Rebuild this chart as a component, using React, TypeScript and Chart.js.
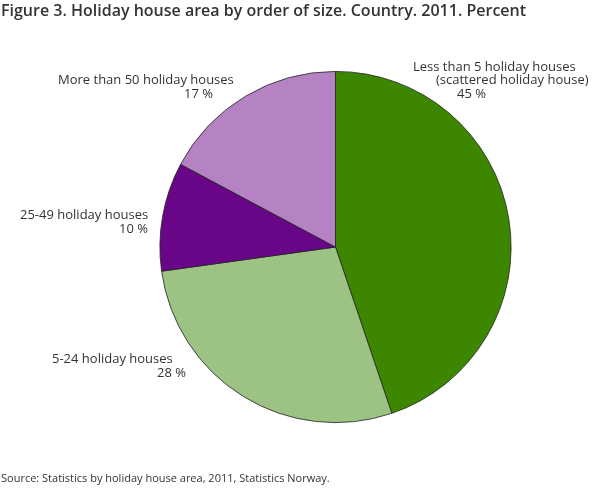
import React, { useEffect, useRef } from 'react';
import { Chart, registerables } from 'chart.js';

Chart.register(...registerables);

const categories = [
  'Less than 5 holiday houses (scattered holiday house)',
  '5-24 holiday houses',
  '25-49 holiday houses',
  'More than 50 holiday houses',
];
const shares = [44.8, 28.0, 10.0, 17.2];
const sliceColors = ['#3d8600', '#9dc384', '#690687', '#b583c4'];
const labelLines = [
  ['Less than 5 holiday houses', '(scattered holiday house)', '45 %'],
  ['5-24 holiday houses', '28 %'],
  ['25-49 holiday houses', '10 %'],
  ['More than 50 holiday houses', '17 %'],
];

const TITLE = 'Figure 3. Holiday house area by order of size. Country. 2011. Percent';
const SOURCE = 'Source: Statistics by holiday house area, 2011, Statistics Norway.';

// left x and middle y of every label line
const labelPos = [
  [[413, 67], [436, 80], [457, 94]],
  [[52, 359], [157, 373]],
  [[20, 215], [119, 229]],
  [[58, 80], [184, 94]],
];

const textPlugin = {
  id: 'texts',
  afterDraw(chart: Chart) {
    const ctx = chart.ctx;
    ctx.save();
    ctx.fillStyle = '#333333';
    ctx.textBaseline = 'middle';
    ctx.textAlign = 'left';
    ctx.font = '600 16px "Open Sans"';
    ctx.fillText(TITLE, 1, 11);
    ctx.font = '13px "Open Sans"';
    labelLines.forEach((lines, i) => {
      lines.forEach((line, j) => {
        const [x, y] = labelPos[i][j];
        ctx.fillText(line, x, y);
      });
    });
    ctx.font = '11px "Open Sans"';
    ctx.fillText(SOURCE, 1, 479);
    ctx.restore();
  },
};

const App: React.FC = () => {
  const canvasRef = useRef<HTMLCanvasElement>(null);

  useEffect(() => {
    if (!canvasRef.current) return;
    const chart = new Chart(canvasRef.current, {
      type: 'pie',
      data: {
        labels: categories,
        datasets: [{
          data: shares,
          backgroundColor: sliceColors,
          borderColor: '#222222',
          borderWidth: 0.8,
          borderJoinStyle: 'miter',
        }],
      },
      options: {
        responsive: true,
        maintainAspectRatio: false,
        animation: false,
        devicePixelRatio: 1,
        layout: {
          padding: { left: 159.5, right: 98.5, top: 71, bottom: 65 },
        },
        plugins: {
          legend: { display: false },
          tooltip: { enabled: false },
        },
      },
      plugins: [textPlugin],
    });
    return () => {
      chart.destroy();
    };
  }, []);

  return (
    <div style={{ position: 'fixed', left: 0, top: 0, width: 610, height: 488, background: '#ffffff' }}>
      <canvas ref={canvasRef}></canvas>
    </div>
  );
};

export default App;
